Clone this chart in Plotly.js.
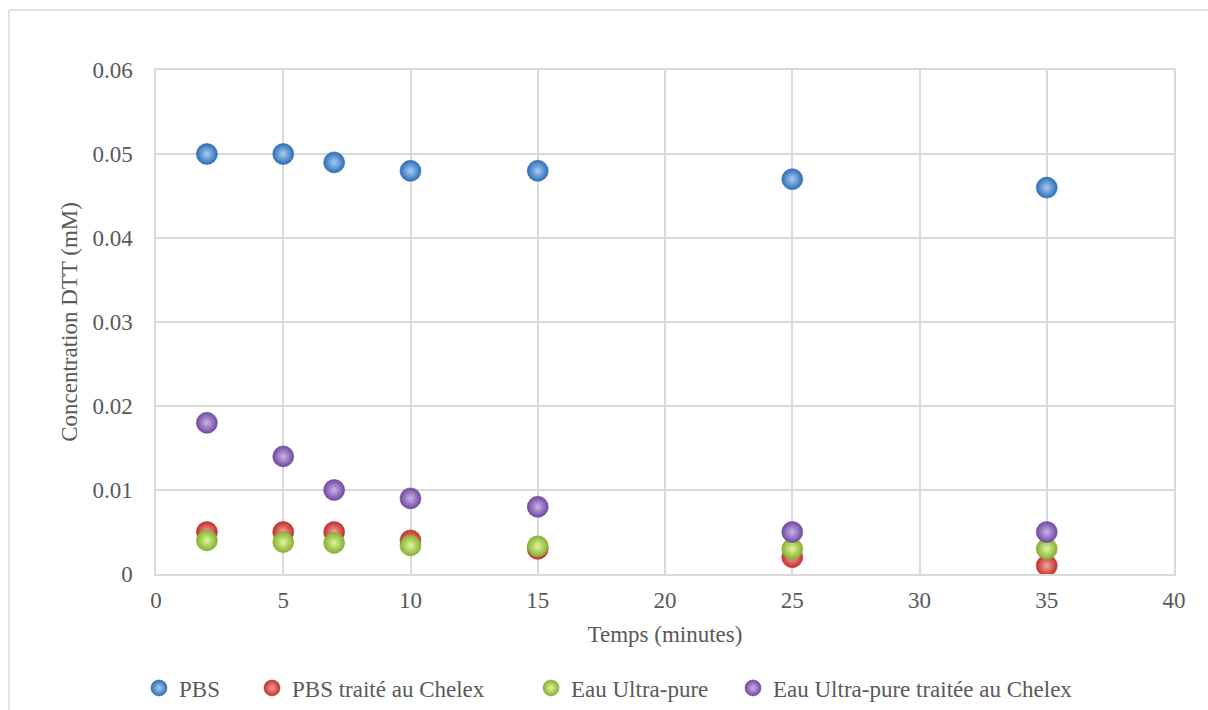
<!DOCTYPE html>
<html>
<head>
<meta charset="utf-8">
<script src="https://cdn.plot.ly/plotly-3.0.1.min.js"></script>
<style>html,body{margin:0;padding:0;background:#fff;}#chart{width:1208px;height:710px;}</style>
</head>
<body>
<div id="chart"></div>
<script>
const temps = [2, 5, 7, 10, 15, 25, 35];
const seriesNames = ["PBS", "PBS traité au Chelex", "Eau Ultra-pure", "Eau Ultra-pure traitée au Chelex"];
const pbs = [0.050, 0.050, 0.049, 0.048, 0.048, 0.047, 0.046];
const pbsChelex = [0.005, 0.005, 0.005, 0.004, 0.003, 0.002, 0.001];
const eauUltraPure = [0.004, 0.0038, 0.0037, 0.0034, 0.0033, 0.003, 0.003];
const eauUltraPureChelex = [0.018, 0.014, 0.010, 0.009, 0.008, 0.005, 0.005];
const colors = ["#2f6db5", "#c0302b", "#86b030", "#6f4a9e"];
const centers = ["#a6cdf5", "#f7a5a0", "#e0f5a0", "#cbb2ee"];
const values = [pbs, pbsChelex, eauUltraPure, eauUltraPureChelex];

const legendX = [155, 268, 547, 749];
const traces = values.map((v, i) => ({
  x: temps, y: v, type: 'scatter', mode: 'markers', name: seriesNames[i],
  legend: i === 0 ? 'legend' : 'legend' + (i + 1),
  marker: {size: 21, color: colors[i], gradient: {type: 'radial', color: centers[i]},
           line: {width: 0.6, color: colors[i]}}
}));

const font = {family: '"Times New Roman", "Liberation Serif", "DejaVu Serif", serif', size: 23, color: '#595959'};
const layout = {
  width: 1208, height: 710,
  margin: {l: 156, r: 34, t: 70, b: 136, autoexpand: false},
  paper_bgcolor: '#fff', plot_bgcolor: '#fff',
  font: font,
  showlegend: true,
  xaxis: {range: [0, 40], dtick: 5, tick0: 0, showgrid: true, gridcolor: '#d9d9d9', gridwidth: 1.5,
          zeroline: false, showline: true, linecolor: '#d9d9d9', linewidth: 1.5, mirror: true,
          ticks: '', ticklabelstandoff: 5, automargin: false,
          title: {text: 'Temps (minutes)', font: font, standoff: 14}},
  yaxis: {range: [0, 0.06], dtick: 0.01, tick0: 0, showgrid: true, gridcolor: '#d9d9d9', gridwidth: 1.5,
          zeroline: false, showline: true, linecolor: '#d9d9d9', linewidth: 1.5, mirror: true,
          ticks: '', ticklabelstandoff: 17, tickformat: '~g', automargin: false,
          title: {text: 'Concentration DTT (mM)', font: font, standoff: 8}},
  shapes: [
    {type: 'line', xref: 'paper', yref: 'paper', x0: (9 - 156) / 1018, x1: (9 - 156) / 1018,
     y0: (574 - 10) / 504, y1: (574 - 720) / 504, line: {color: '#d9d9d9', width: 1.5}},
    {type: 'line', xref: 'paper', yref: 'paper', x0: (9 - 156) / 1018, x1: (1220 - 156) / 1018,
     y0: (574 - 10) / 504, y1: (574 - 10) / 504, line: {color: '#d9d9d9', width: 1.5}}
  ]
};
legendX.forEach((px, i) => {
  const key = i === 0 ? 'legend' : 'legend' + (i + 1);
  layout[key] = {x: (px - 156 - 16) / 1018, xanchor: 'left', y: (574 - 688) / 504, yanchor: 'middle',
                 orientation: 'h', font: font, bgcolor: 'rgba(0,0,0,0)', itemwidth: 30};
});
Plotly.newPlot('chart', traces, layout, {displayModeBar: false});
</script>
</body>
</html>
